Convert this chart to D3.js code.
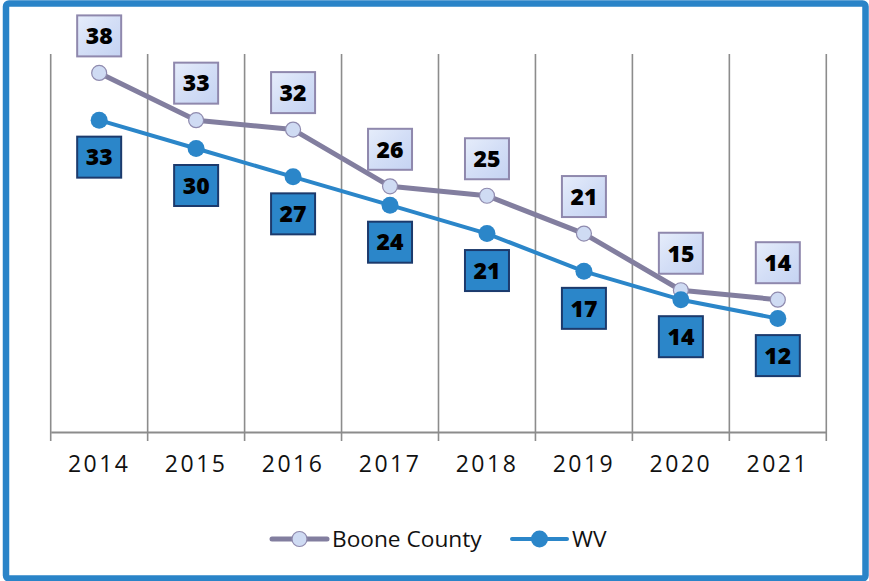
<!DOCTYPE html>
<html>
<head>
<meta charset="utf-8">
<script src="https://cdn.jsdelivr.net/npm/d3@7"></script>
<style>
  html, body { margin: 0; padding: 0; background: #fff; }
  svg { display: block; }
</style>
</head>
<body>
<div id="grafico"></div>
<script>
// dados
const anos = ["2014", "2015", "2016", "2017", "2018", "2019", "2020", "2021"];
const boone = [38, 33, 32, 26, 25, 21, 15, 14];
const wv = [33, 30, 27, 24, 21, 17, 14, 12];
const nomesSeries = ["Boone County", "WV"];

const largura = 869;
const altura = 581;
const margem = { top: 54, right: 42.7, bottom: 149, left: 50.7 };

const corBoone = "#827e9f";
const corWV = "#2b86c9";

const svg = d3.select("#grafico").append("svg")
  .attr("width", largura)
  .attr("height", altura);

// gradiente dos rótulos claros
const defs = svg.append("defs");
const grad = defs.append("linearGradient")
  .attr("id", "gradBoone")
  .attr("x1", "0").attr("y1", "0").attr("x2", "1").attr("y2", "1");
grad.append("stop").attr("offset", "0%").attr("stop-color", "#e6edfb");
grad.append("stop").attr("offset", "50%").attr("stop-color", "#d3def6");
grad.append("stop").attr("offset", "100%").attr("stop-color", "#c5d3f2");

// moldura azul
svg.append("rect")
  .attr("x", 6).attr("y", 3.5)
  .attr("width", largura - 9.5).attr("height", altura - 6)
  .attr("rx", 3)
  .attr("fill", "#fff")
  .attr("stroke", "#2a84c8")
  .attr("stroke-width", 6.5);

// escalas
const escalaX = d3.scaleBand()
  .domain(anos)
  .range([margem.left, largura - margem.right])
  .padding(0);

const escalaY = d3.scaleLinear()
  .domain([0, 40])
  .range([altura - margem.bottom, margem.top]);

const base = escalaY(0);
const bordas = anos.map(a => escalaX(a)).concat([escalaX(anos[anos.length - 1]) + escalaX.bandwidth()]);

// linhas de grade verticais
svg.append("g")
  .selectAll("line")
  .data(bordas)
  .join("line")
  .attr("x1", d => d).attr("x2", d => d)
  .attr("y1", margem.top).attr("y2", base + 9)
  .attr("stroke", "#8c8c8c")
  .attr("stroke-width", 1.6);

// eixo X
const eixoX = svg.append("g")
  .attr("transform", `translate(0,${base})`)
  .call(d3.axisBottom(escalaX).tickSize(0).tickPadding(24));
eixoX.select(".domain")
  .attr("stroke", "#8c8c8c")
  .attr("stroke-width", 2);
eixoX.selectAll("text")
  .attr("fill", "#111")
  .style("font-family", "'Open Sans', sans-serif")
  .style("font-size", "23px")
  .style("letter-spacing", "2.5px");

// linhas
const linha = d3.line()
  .x((d, i) => escalaX(anos[i]) + escalaX.bandwidth() / 2)
  .y(d => escalaY(d));

svg.append("path")
  .datum(boone)
  .attr("d", linha)
  .attr("fill", "none")
  .attr("stroke", corBoone)
  .attr("stroke-width", 5)
  .attr("stroke-linejoin", "round");

svg.append("path")
  .datum(wv)
  .attr("d", linha)
  .attr("fill", "none")
  .attr("stroke", corWV)
  .attr("stroke-width", 4)
  .attr("stroke-linejoin", "round");

// marcadores
svg.append("g")
  .selectAll("circle")
  .data(boone)
  .join("circle")
  .attr("cx", (d, i) => escalaX(anos[i]) + escalaX.bandwidth() / 2)
  .attr("cy", d => escalaY(d))
  .attr("r", 7.5)
  .attr("fill", "#cfdbf3")
  .attr("stroke", "#8f8aae")
  .attr("stroke-width", 1.2);

svg.append("g")
  .selectAll("circle")
  .data(wv)
  .join("circle")
  .attr("cx", (d, i) => escalaX(anos[i]) + escalaX.bandwidth() / 2)
  .attr("cy", d => escalaY(d))
  .attr("r", 8.5)
  .attr("fill", corWV);

// rótulos de valor
function rotulos(dados, deslocamento, preenchimento, borda) {
  const g = svg.append("g")
    .selectAll("g")
    .data(dados)
    .join("g")
    .attr("transform", (d, i) =>
      `translate(${escalaX(anos[i]) + escalaX.bandwidth() / 2},${escalaY(d) + deslocamento})`);
  g.append("rect")
    .attr("x", -22).attr("y", -20.5)
    .attr("width", 44).attr("height", 41)
    .attr("fill", preenchimento)
    .attr("stroke", borda)
    .attr("stroke-width", 2);
  g.append("text")
    .attr("text-anchor", "middle")
    .attr("dy", "0.36em")
    .style("font-family", "'Open Sans', sans-serif")
    .style("font-weight", "800")
    .style("font-size", "23px")
    .attr("fill", "#000")
    .text(d => d);
}
rotulos(boone, -37, "url(#gradBoone)", "#8f88ad");
rotulos(wv, 37, "#2b86c9", "#1c3a6c");

// legenda
const legenda = svg.append("g").attr("transform", "translate(0,539)");
const itens = [
  { nome: nomesSeries[0], x: 272, cor: corBoone, largura: 5, r: 7.5, fill: "#cfdbf3", stroke: "#8f8aae" },
  { nome: nomesSeries[1], x: 512, cor: corWV, largura: 4, r: 8.5, fill: corWV, stroke: "none" }
];
const item = legenda.selectAll("g")
  .data(itens)
  .join("g")
  .attr("transform", d => `translate(${d.x},0)`);
item.append("line")
  .attr("x1", 0).attr("x2", 55)
  .attr("stroke", d => d.cor)
  .attr("stroke-width", d => d.largura)
  .attr("stroke-linecap", "round");
item.append("circle")
  .attr("cx", 27.5)
  .attr("r", d => d.r)
  .attr("fill", d => d.fill)
  .attr("stroke", d => d.stroke)
  .attr("stroke-width", 1.2);
item.append("text")
  .attr("x", 60)
  .attr("y", 8)
  .style("font-family", "'Open Sans', sans-serif")
  .style("font-size", "22.7px")
  .attr("fill", "#111")
  .text(d => d.nome);
</script>
</body>
</html>
